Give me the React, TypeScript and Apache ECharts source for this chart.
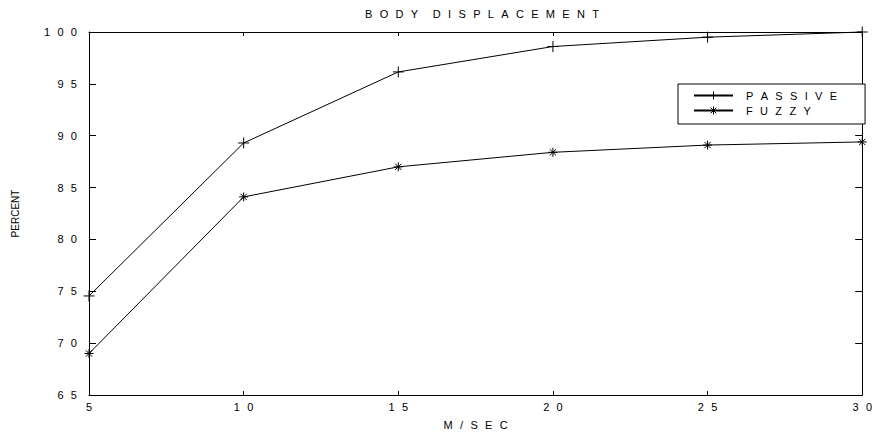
import React, { useEffect, useRef } from "react";
import * as echarts from "echarts";

const speeds = [5, 10, 15, 20, 25, 30];
const passive = [74.55, 89.3, 96.15, 98.6, 99.5, 100];
const fuzzy = [69.0, 84.1, 87.0, 88.4, 89.1, 89.4];
const seriesNames = ["PASSIVE", "FUZZY"];
const titleText = "BODY DISPLACEMENT";
const xName = "M/SEC";
const yName = "PERCENT";

const GAP = "\u2002\u2006";
const spread = (t: string) =>
  t
    .split(" ")
    .map((w) => w.split("").join(GAP))
    .join(GAP + GAP);
const spaced = (v: number) => spread(String(v));
const FONT = "Liberation Sans, Arial, sans-serif";

const plusPath = "path://M0,-10 L0,10 M-10,0 L10,0";
const starPath = "path://M0,-10 L0,10 M-10,0 L10,0 M-7,-7 L7,7 M-7,7 L7,-7";

export default function App() {
  const ref = useRef<HTMLDivElement>(null);
  useEffect(() => {
    const chart = echarts.init(ref.current!, null, { renderer: "svg" });
    const axisCommon = {
      axisLine: { lineStyle: { color: "#000", width: 1 } },
      splitLine: { show: false },
    };
    chart.setOption({
      animation: false,
      backgroundColor: "#fff",
      title: {
        text: spread(titleText),
        left: 477,
        textAlign: "center",
        top: 3,
        textStyle: { fontFamily: FONT, fontSize: 11, fontWeight: "normal", color: "#000" },
      },
      grid: { left: 89, right: 8, top: 32, bottom: 39 },
      legend: {
        left: 678,
        top: 84,
        orient: "vertical",
        data: seriesNames,
        formatter: (n: string) => spread(n),
        itemWidth: 39,
        itemHeight: 10,
        itemGap: 2,
        padding: [5, 28, 7, 15],
        borderColor: "#000",
        borderWidth: 1,
        borderRadius: 0,
        backgroundColor: "#fff",
        itemStyle: { borderWidth: 1 },
        textStyle: { fontFamily: FONT, fontSize: 11, lineHeight: 10, color: "#000", padding: [0, 0, 0, 8] },
      },
      xAxis: [
        {
          type: "value",
          min: 5,
          max: 30,
          interval: 5,
          name: spread(xName),
          nameLocation: "middle",
          nameGap: 24,
          nameTextStyle: { fontFamily: FONT, fontSize: 11, color: "#000" },
          axisTick: { inside: true, length: 4, lineStyle: { color: "#000" } },
          axisLabel: { formatter: spaced, fontFamily: FONT, fontSize: 11, color: "#000", margin: 6 },
          ...axisCommon,
        },
        {
          type: "value",
          position: "top",
          min: 5,
          max: 30,
          interval: 5,
          axisTick: { inside: true, length: 4, lineStyle: { color: "#000" } },
          axisLabel: { show: false },
          ...axisCommon,
        },
      ],
      yAxis: [
        {
          type: "value",
          min: 65,
          max: 100,
          interval: 5,
          name: yName,
          nameLocation: "middle",
          nameGap: 69,
          nameRotate: 90,
          nameTextStyle: { fontFamily: FONT, fontSize: 10, color: "#000" },
          axisTick: { inside: true, length: 7, lineStyle: { color: "#000" } },
          axisLabel: { formatter: spaced, fontFamily: FONT, fontSize: 11, color: "#000", margin: 12 },
          ...axisCommon,
        },
        {
          type: "value",
          position: "right",
          min: 65,
          max: 100,
          interval: 5,
          axisTick: { inside: true, length: 7, lineStyle: { color: "#000" } },
          axisLabel: { show: false },
          ...axisCommon,
        },
      ],
      series: [
        {
          name: seriesNames[0],
          type: "line",
          data: speeds.map((s, i) => [s, passive[i]]),
          symbol: plusPath,
          symbolSize: 11,
          showAllSymbol: true,
          lineStyle: { color: "#000", width: 1 },
          itemStyle: { color: "none", borderColor: "#000", borderWidth: 1 },
          clip: false,
        },
        {
          name: seriesNames[1],
          type: "line",
          data: speeds.map((s, i) => [s, fuzzy[i]]),
          symbol: starPath,
          symbolSize: 9,
          showAllSymbol: true,
          lineStyle: { color: "#000", width: 1 },
          itemStyle: { color: "none", borderColor: "#000", borderWidth: 1 },
          clip: false,
        },
      ],
    });
    return () => chart.dispose();
  }, []);
  return <div ref={ref} style={{ width: 875, height: 435, position: "absolute", left: 0, top: 0 }} />;
}
